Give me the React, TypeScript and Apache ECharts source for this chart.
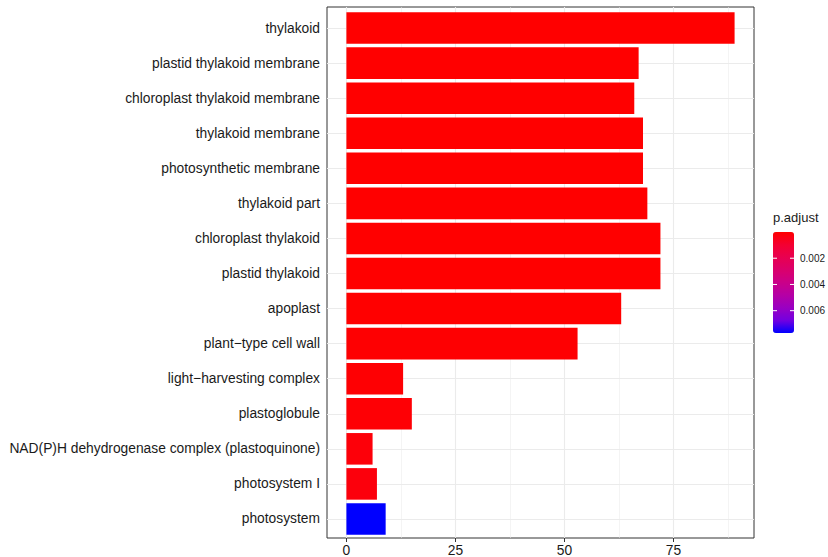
import React, { useEffect, useRef } from "react";
import * as echarts from "echarts";

const categories: string[] = [
  "thylakoid",
  "plastid thylakoid membrane",
  "chloroplast thylakoid membrane",
  "thylakoid membrane",
  "photosynthetic membrane",
  "thylakoid part",
  "chloroplast thylakoid",
  "plastid thylakoid",
  "apoplast",
  "plant\u2212type cell wall",
  "light\u2212harvesting complex",
  "plastoglobule",
  "NAD(P)H dehydrogenase complex (plastoquinone)",
  "photosystem I",
  "photosystem",
];

const counts: number[] = [89, 67, 66, 68, 68, 69, 72, 72, 63, 53, 13, 15, 6, 7, 9];

const padj: number[] = [
  2.1e-13, 3.5e-9, 3.5e-9, 1.6e-8, 1.6e-8, 1.1e-8, 2.3e-8, 2.3e-8, 6.4e-6, 4.4e-5,
  0.00006, 0.0001, 0.00017, 0.00024, 0.0077,
];

const xTicks: number[] = [0, 25, 50, 75];
const xMinorTicks: number[] = [12.5, 37.5, 62.5, 87.5];
const legendTicks: number[] = [0.002, 0.004, 0.006];

const gradientStops: string[] = [
  "#FF0000", "#F40031", "#E80050", "#DA006C", "#CA0089", "#B500A5", "#9A00C2", "#7300E0", "#0000FF",
];

const FONT = "'Liberation Sans', Arial, Helvetica, sans-serif";

export default function App() {
  const ref = useRef<HTMLDivElement>(null);

  useEffect(() => {
    if (!ref.current) return;
    const chart = echarts.init(ref.current, null, { renderer: "svg" });

    const H = 557;
    const maxCount = Math.max(...counts);
    const pad = maxCount * 0.05;
    const xMin = -pad;
    const xMax = maxCount + pad;
    const pMin = Math.min(...padj);
    const pMax = Math.max(...padj);

    const panel = { left: 327, top: 7, right: 74, bottom: 17 };
    const panelH = H - panel.top - panel.bottom;
    const unit = panelH / (categories.length - 1 + 1.2);
    const inset = unit * 0.1;

    const cb = { left: 773, top: 232, width: 21, height: 101 };
    const cbY = (v: number) => cb.top + ((v - pMin) / (pMax - pMin)) * cb.height;

    const gridLine = (w: number) => ({ color: "#EBEBEB", width: w, type: "solid" as const });

    const graphics: any[] = [
      {
        type: "text",
        x: 773,
        y: 211,
        style: { text: "p.adjust", fill: "#1a1a1a", font: `13px ${FONT}` },
        z: 100,
      },
    ];
    legendTicks.forEach((v) => {
      const y = cbY(v);
      graphics.push({
        type: "line",
        shape: { x1: cb.left, y1: y, x2: cb.left + 4, y2: y },
        style: { stroke: "#ffffff", lineWidth: 1 },
        z: 100,
      });
      graphics.push({
        type: "line",
        shape: { x1: cb.left + cb.width - 4, y1: y, x2: cb.left + cb.width, y2: y },
        style: { stroke: "#ffffff", lineWidth: 1 },
        z: 100,
      });
      graphics.push({
        type: "text",
        x: 800,
        y,
        style: {
          text: v.toFixed(3),
          fill: "#1a1a1a",
          font: `10px ${FONT}`,
          verticalAlign: "middle",
          textVerticalAlign: "middle",
        },
        z: 100,
      });
    });

    const option: any = {
      animation: false,
      backgroundColor: "#ffffff",
      grid: [
        {
          left: panel.left,
          right: panel.right,
          top: panel.top,
          bottom: panel.bottom,
          show: true,
          backgroundColor: "#ffffff",
          borderColor: "#333333",
          borderWidth: 1,
        },
        {
          left: panel.left,
          right: panel.right,
          top: panel.top + inset,
          bottom: panel.bottom + inset,
          show: false,
        },
      ],
      xAxis: [
        {
          gridIndex: 0,
          type: "value",
          min: xMin,
          max: xMax,
          axisLine: { show: false },
          splitLine: { show: false },
          axisTick: {
            show: true,
            length: 4,
            customValues: xTicks,
            lineStyle: { color: "#333333", width: 1 },
          },
          axisLabel: {
            customValues: xTicks,
            margin: 5,
            fontSize: 13.8,
            color: "#1a1a1a",
            fontFamily: FONT,
          },
        },
        { gridIndex: 1, type: "value", min: xMin, max: xMax, show: false },
      ],
      yAxis: [
        { gridIndex: 0, type: "value", min: 0, max: 1, show: false },
        {
          gridIndex: 1,
          type: "category",
          data: categories,
          inverse: true,
          axisLine: { show: false },
          splitLine: { show: false },
          axisTick: {
            show: true,
            alignWithLabel: true,
            length: 4,
            lineStyle: { color: "#333333", width: 1 },
          },
          axisLabel: {
            margin: 7,
            fontSize: 13.8,
            color: "#1a1a1a",
            fontFamily: FONT,
          },
        },
      ],
      visualMap: {
        type: "continuous",
        seriesIndex: 2,
        dimension: 2,
        min: pMin,
        max: pMax,
        inverse: true,
        orient: "vertical",
        left: cb.left,
        top: cb.top,
        itemWidth: cb.width,
        itemHeight: cb.height,
        padding: 0,
        calculable: false,
        hoverLink: false,
        inRange: { color: gradientStops },
      },
      series: [
        {
          type: "line",
          xAxisIndex: 0,
          yAxisIndex: 0,
          data: [],
          silent: true,
          z: 1,
          markLine: {
            silent: true,
            symbol: "none",
            z: 1,
            animation: false,
            label: { show: false },
            data: [
              ...xMinorTicks.map((v) => ({ xAxis: v, lineStyle: gridLine(0.55) })),
              ...xTicks.map((v) => ({ xAxis: v, lineStyle: gridLine(1.1) })),
            ],
          },
        },
        {
          type: "line",
          xAxisIndex: 1,
          yAxisIndex: 1,
          data: [],
          silent: true,
          z: 1,
          markLine: {
            silent: true,
            symbol: "none",
            z: 1,
            animation: false,
            label: { show: false },
            data: categories.map((c) => ({ yAxis: c, lineStyle: gridLine(1.1) })),
          },
        },
        {
          type: "bar",
          xAxisIndex: 1,
          yAxisIndex: 1,
          z: 3,
          barWidth: "90%",
          silent: true,
          emphasis: { disabled: true },
          encode: { x: 0, y: 1 },
          data: categories.map((c, i) => [counts[i], c, padj[i]]),
        },
      ],
      graphic: graphics,
    };

    chart.setOption(option);
    return () => chart.dispose();
  }, []);

  return (
    <div
      ref={ref}
      style={{ position: "fixed", left: 0, top: 0, width: 828, height: 557 }}
    />
  );
}
